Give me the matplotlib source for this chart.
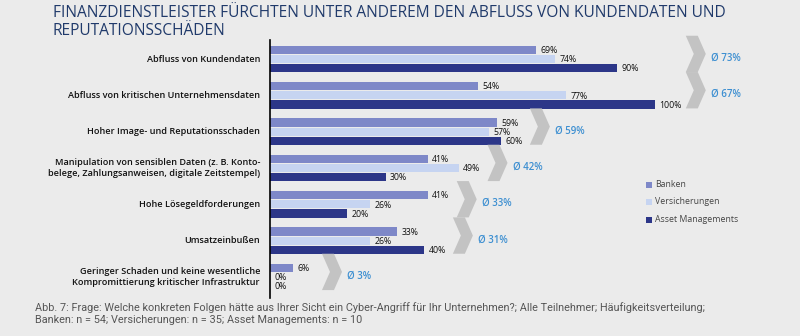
import matplotlib
matplotlib.use("Agg")
import matplotlib.pyplot as plt
from matplotlib.patches import Polygon, Rectangle

# Data
categories = [
    "Abfluss von Kundendaten",
    "Abfluss von kritischen Unternehmensdaten",
    "Hoher Image- und Reputationsschaden",
    "Manipulation von sensiblen Daten (z. B. Konto-\nbelege, Zahlungsanweisen, digitale Zeitstempel)",
    "Hohe Lösegeldforderungen",
    "Umsatzeinbußen",
    "Geringer Schaden und keine wesentliche\nKompromittierung kritischer Infrastruktur",
]
banken = [69, 54, 59, 41, 41, 33, 6]
versicherungen = [74, 77, 57, 49, 26, 26, 0]
asset_mgmt = [90, 100, 60, 30, 20, 40, 0]
average = [73, 67, 59, 42, 33, 31, 3]

series_names = ["Banken", "Versicherungen", "Asset Managements"]
series_colors = ["#7e88c8", "#c6d4f1", "#2c3688"]

title = "FINANZDIENSTLEISTER FÜRCHTEN UNTER ANDEREM DEN ABFLUSS VON KUNDENDATEN UND\nREPUTATIONSSCHÄDEN"
caption = ("Abb. 7: Frage: Welche konkreten Folgen hätte aus Ihrer Sicht ein Cyber-Angriff für Ihr Unternehmen?; "
           "Alle Teilnehmer; Häufigkeitsverteilung;\nBanken: n = 54; Versicherungen: n = 35; Asset Managements: n = 10")

bg = "#ebebeb"
W, H = 800, 336

fig = plt.figure(figsize=(W / 100, H / 100), dpi=100, facecolor=bg)
# axes placed in pixel terms: spine at x=270, from y=40 down to y=298
ax = fig.add_axes([270 / W, 1 - 298 / H, 530 / W, 258 / H])
ax.set_facecolor("none")
ax.set_xlim(0, 530 / 385 * 100)
ax.set_ylim(6.578, -0.523)
for s in ("top", "right", "bottom"):
    ax.spines[s].set_visible(False)
ax.spines["left"].set_linewidth(1.2)
ax.spines["left"].set_color("black")
ax.set_xticks([])
ax.set_yticks([])

bh = 0.225
off = 0.25
series = [banken, versicherungen, asset_mgmt]
px = 100 / 385  # data units per pixel on x

for k, (vals, col) in enumerate(zip(series, series_colors)):
    ys = [i + (k - 1) * off for i in range(len(categories))]
    ax.barh(ys, vals, height=bh, color=col)
    for y, v in zip(ys, vals):
        ax.text(v + 4.5 * px, y + 0.02, f"{v}%", fontsize=6.3, va="center", ha="left",
                color="#111111", family=["Open Sans", "DejaVu Sans"])

# chevron positions follow the longest bar; first two rows share one column
chev = [max(v) + 7.5 for v in zip(banken, versicherungen, asset_mgmt)]
chev[0] = chev[1] = max(chev[0], chev[1]) + 0.5

cw, cd = 20 * px, 8 * px
for i, (cx, avg) in enumerate(zip(chev, average)):
    yc = i - 0.14
    top, bot = yc - 0.5, yc + 0.5
    poly = Polygon([(cx, top), (cx + cw - cd, top), (cx + cw, yc), (cx + cw - cd, bot),
                    (cx, bot), (cx + cd, yc)], closed=True, facecolor="#c3c3c3",
                   edgecolor="none", clip_on=False)
    ax.add_patch(poly)
    ax.text(cx + cw + 5 * px, i - 0.02, f"Ø {avg}%", fontsize=7, fontweight="semibold",
            color="#3d8fd1", va="center", ha="left", family=["Open Sans", "DejaVu Sans"])

# category labels
for i, cat in enumerate(categories):
    ax.text(-10 * px, i, cat, fontsize=6.6, fontweight="semibold", ha="right", va="center",
            color="#111111", linespacing=1.35, family=["Open Sans", "DejaVu Sans"])

# legend
for k, (name, col) in enumerate(zip(series_names, series_colors)):
    yk = 184 + k * 17.5
    fig.add_artist(Rectangle((646 / W, 1 - (yk + 3.5) / H), 6 / W, 6 / H,
                             transform=fig.transFigure, facecolor=col, edgecolor="none"))
    fig.text(655 / W, 1 - yk / H, name, fontsize=6.3, va="center", ha="left",
             color="#444444", family=["Open Sans", "DejaVu Sans"])

fig.text(53 / W, 1 - 5 / H, title, fontsize=11.2, color="#203a6b", va="top", ha="left",
         linespacing=1.17, family=["Open Sans", "DejaVu Sans"])
fig.text(35 / W, 1 - 302 / H, caption, fontsize=7.8, color="#555555", va="top", ha="left",
         linespacing=1.2, family=["Liberation Sans Narrow", "Roboto", "DejaVu Sans"])

fig.savefig("out.png", dpi=100, facecolor=bg)
